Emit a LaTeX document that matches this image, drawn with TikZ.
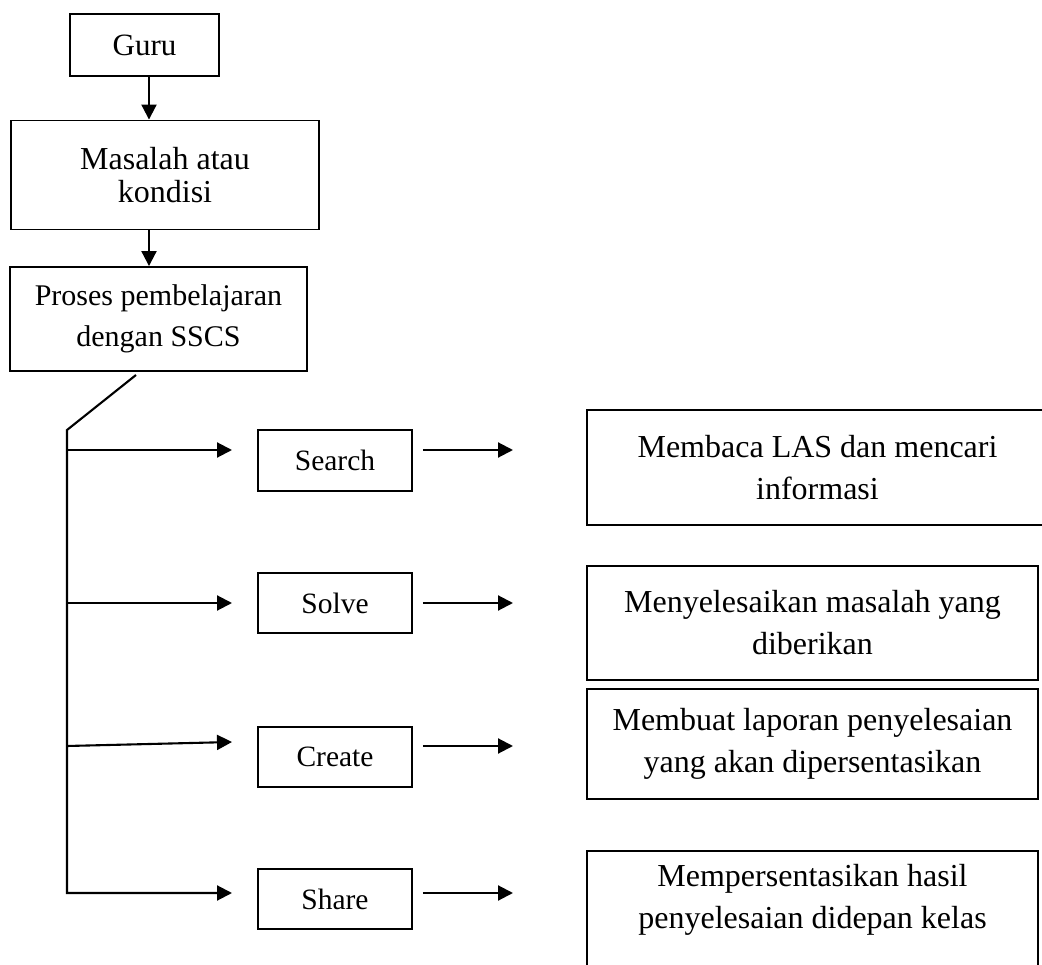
\documentclass[tikz,border=0pt]{standalone}
\usepackage{fontspec}
\setmainfont{Liberation Serif}
\usetikzlibrary{arrows.meta,calc}
\begin{document}
\begin{tikzpicture}[x=1pt,y=-1pt,
  box/.style={draw, line width=1.9pt, inner sep=0pt, align=center, font=\fontsize{32}{42}\selectfont},
  mid/.style={box, minimum width=154pt, minimum height=60pt, font=\fontsize{29.5}{36}\selectfont},
  txt/.style={inner sep=0pt, align=center, font=\fontsize{32}{42}\selectfont},
  arr/.style={-{Triangle[length=15pt,width=15pt]}, line width=2.1pt}]
\useasboundingbox (0,0) rectangle (1042,965);
\clip (0,0) rectangle (1042,965);

% left column
\node[box, minimum width=149pt, minimum height=62pt, font=\fontsize{31}{36}\selectfont] (guru) at (144.5,45) {Guru};
\node[box, minimum width=308pt, minimum height=109pt, font=\fontsize{32}{33}\selectfont] (masalah) at (165,175) {Masalah atau\\kondisi};
\node[box, minimum width=297pt, minimum height=104pt, font=\fontsize{30}{41}\selectfont] (proses) at (158.5,319) {Proses pembelajaran\\dengan SSCS};

% middle column
\node[mid, minimum height=61pt] (search) at (335,460.5) {Search};
\node[mid] (solve) at (335,603) {Solve};
\node[mid] (create) at (335,757) {Create};
\node[mid] (share) at (335,899) {Share};

% right column
\node[box, minimum width=461pt, minimum height=115pt] (membaca) at (817.5,467.5) {Membaca LAS dan mencari\\informasi};
\node[box, minimum width=451pt, minimum height=114pt] (menyel) at (812.5,623) {Menyelesaikan masalah yang\\diberikan};
\node[box, minimum width=451pt, minimum height=110pt] (membuat) at (812.5,744) {Membuat laporan penyelesaian\\yang akan dipersentasikan};
\node[box, minimum width=451pt, minimum height=150pt, anchor=north] (mempres) at (812.5,850) {};
\node[txt, anchor=north] (mempresT) at (812.5,864) {Mempersentasikan hasil\\penyelesaian didepan kelas};

% vertical arrows
\coordinate (ax) at (149,0);
\draw[arr] (guru.south -| ax) -- (masalah.north -| ax);
\draw[arr] (masalah.south -| ax) -- (proses.north -| ax);

% trunk
\coordinate (t0) at (136,375);
\coordinate (t1) at (67,430);
\coordinate (b1) at (67,450);
\coordinate (b2) at (67,603);
\coordinate (b3) at (67,746);
\coordinate (b4) at (67,893);
\coordinate (e1) at (232,450);
\coordinate (e2) at (232,603);
\coordinate (e3) at (232,742);
\coordinate (e4) at (232,893);
\draw[arr, line join=miter] (t0) -- (t1) -- (b4) -- (e4);
\draw[arr] (b1) -- (e1);
\draw[arr] (b2) -- (e2);
\draw[arr] (b3) -- (e3);

% right arrows
\coordinate (r1) at (513,450);
\coordinate (r2) at (513,603);
\coordinate (r3) at (513,746);
\coordinate (r4) at (513,893);
\draw[arr] (search.east |- r1) ++(10,0) -- (r1);
\draw[arr] (solve.east |- r2) ++(10,0) -- (r2);
\draw[arr] (create.east |- r3) ++(10,0) -- (r3);
\draw[arr] (share.east |- r4) ++(10,0) -- (r4);
\end{tikzpicture}
\end{document}
